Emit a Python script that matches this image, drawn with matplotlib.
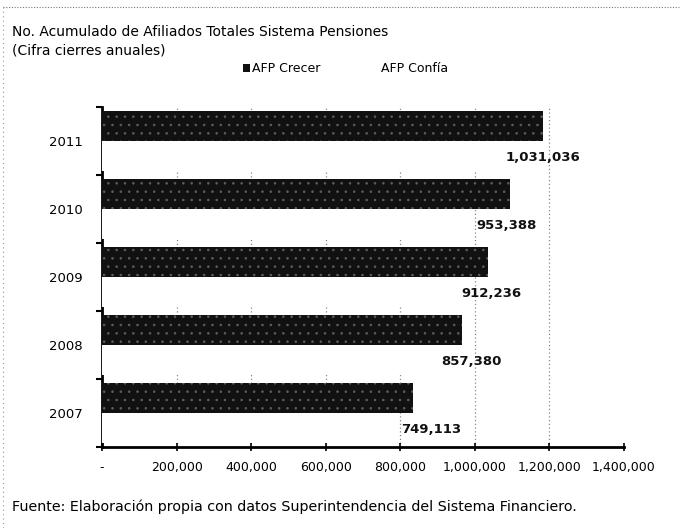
import matplotlib
matplotlib.use("Agg")
import matplotlib.pyplot as plt
from matplotlib.patches import Patch
from matplotlib.lines import Line2D
from matplotlib.ticker import FuncFormatter, FixedLocator

plt.rcParams['font.family'] = ['DejaVu Sans']
plt.rcParams['hatch.linewidth'] = 0.6

years = ["2007", "2008", "2009", "2010", "2011"]
crecer = [834000, 965000, 1034000, 1094000, 1182000]
confia = [749113, 857380, 912236, 953388, 1031036]
x_ticks = [0, 200000, 400000, 600000, 800000, 1000000, 1200000, 1400000]

title = "No. Acumulado de Afiliados Totales Sistema Pensiones"
subtitle = "(Cifra cierres anuales)"
source = "Fuente: Elaboración propia con datos Superintendencia del Sistema Financiero."

fig = plt.figure(figsize=(6.8, 5.28), dpi=100)
ax = fig.add_axes([102 / 680, 1 - 447 / 528, 522 / 680, 340 / 528])

pos = list(range(len(years)))
h = 0.44
ax.barh([p + h / 2 for p in pos], crecer, height=h, color="#111111",
        edgecolor="#5e5e5e", hatch="..", linewidth=0, zorder=3)
ax.barh([p - h / 2 for p in pos], confia, height=h, color="white",
        linewidth=0, zorder=3)
for p, v in zip(pos, confia):
    ax.text(v + 52000, p - h / 2 - 0.02, f"{v:,}", ha="left", va="center",
            fontsize=9.5, fontweight="bold", color="#111111", zorder=4)

ax.set_xlim(0, 1400000)
ax.set_ylim(-0.5, len(years) - 0.5)
ax.xaxis.set_major_locator(FixedLocator(x_ticks))
ax.xaxis.set_major_formatter(FuncFormatter(lambda v, _: "-" if v == 0 else f"{int(v):,}"))
ax.set_yticks(pos)
ax.set_yticklabels(years)
ax.set_yticks([p - 0.5 for p in range(len(years) + 1)], minor=True)
ax.tick_params(axis="y", which="major", length=0, pad=14, labelsize=9.5)
ax.tick_params(axis="y", which="minor", length=4, width=1.5, direction="out")
ax.tick_params(axis="x", which="major", length=6, width=1.2, direction="inout",
               labelsize=9, pad=7)
for s in ["top", "right"]:
    ax.spines[s].set_visible(False)
for s in ["left", "bottom"]:
    ax.spines[s].set_linewidth(2)
    ax.spines[s].set_color("black")
ax.grid(axis="x", color="#888888", linestyle=(0, (1, 2)), linewidth=0.9, zorder=0)
ax.set_axisbelow(True)
gls = ax.get_xgridlines()
gls[0].set_visible(False)
gls[-1].set_visible(False)

fig.text(0.018, 1 - 32 / 528, title, fontsize=10, color="black", va="center", ha="left")
fig.text(0.018, 1 - 50 / 528, subtitle, fontsize=10, color="black", va="center", ha="left")
fig.text(0.018, 1 - 507 / 528, source, fontsize=10.3, color="black", va="center", ha="left")

handles = [Patch(facecolor="#111111", edgecolor="none"),
           Patch(facecolor="white", edgecolor="none")]
fig.legend(handles, ["AFP Crecer", "AFP Confía"], loc="center left",
           bbox_to_anchor=(243 / 680, 1 - 69 / 528), ncol=2, frameon=False, fontsize=9,
           handlelength=0.55, handleheight=0.6, handletextpad=0.15, columnspacing=4.2,
           borderpad=0, borderaxespad=0)

fig.add_artist(Line2D([0.004, 0.998], [1 - 7 / 528, 1 - 7 / 528], transform=fig.transFigure,
                      color="#777777", linestyle=(0, (1, 1.5)), linewidth=0.8))
fig.add_artist(Line2D([0.005, 0.005], [0.0, 1 - 7 / 528], transform=fig.transFigure,
                      color="#999999", linestyle=(0, (1, 3)), linewidth=0.8))

fig.savefig("out.png", dpi=100)
